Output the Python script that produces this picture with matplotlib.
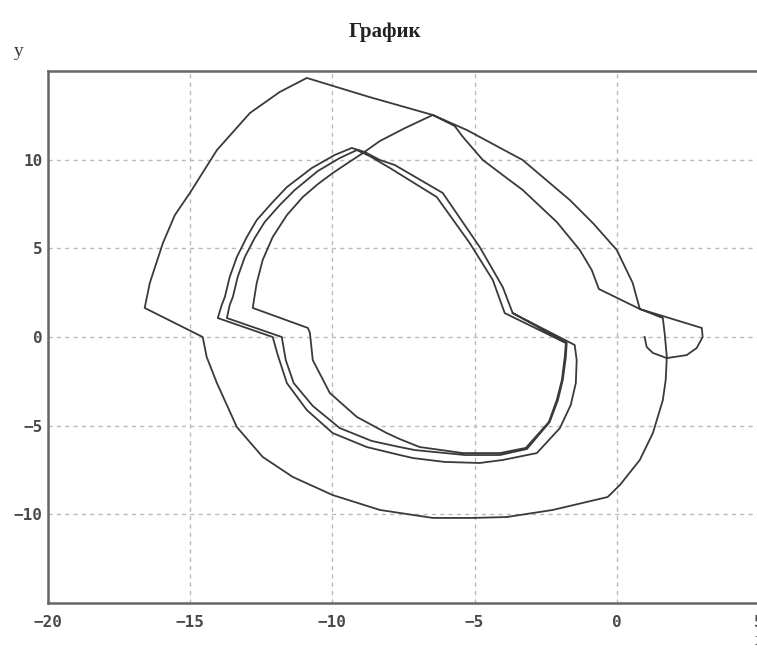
import matplotlib
matplotlib.use('Agg')
import matplotlib.pyplot as plt

# trajectory (clockwise spiral, then the outer loop and the hook)
x = [-3.66, -1.48, -1.41, -1.44, -1.62, -2.00, -2.81,
     -4.01, -4.82, -6.05, -7.17, -7.63, -8.79, -9.99, -10.90, -11.60, -11.92, -12.10,
     -14.03, -13.89, -13.78, -13.61, -13.36, -13.01, -12.66, -12.13, -11.60, -10.72, -9.92, -9.32,
     -8.86, -8.33, -7.81, -6.12, -4.82, -4.01, -3.66,
     -1.76, -1.79, -1.90, -2.07, -2.36, -3.16,
     -4.11, -5.34, -7.10, -7.63, -8.61, -9.74, -10.69, -11.36, -11.64, -11.78,
     -13.71, -13.61, -13.50, -13.33, -13.08, -12.73, -12.38, -11.85, -11.32, -10.51, -9.74, -9.14,
     -8.69, -7.98, -6.33, -5.17, -4.36, -3.94,
     -1.79, -1.83, -1.93, -2.11, -2.39, -3.20,
     -4.11, -5.41, -6.93, -7.63, -8.09, -9.14, -10.09, -10.69, -10.79, -10.86,
     -12.80, -12.73, -12.66, -12.45, -12.10, -11.60, -11.04, -10.51, -9.99, -9.46, -8.93, -8.33, -7.45, -6.47,
     -5.27, -3.31, -1.65, -0.81, 0.00, 0.56, 0.81, 1.62, 1.69, 1.76, 1.72, 1.62, 1.27, 0.81, 0.11, -0.32,
     -2.25, -3.87, -5.06, -6.47, -8.33, -9.99, -11.39, -12.45, -13.36, -14.06, -14.42, -14.56,
     -16.60, -16.42, -15.96, -15.54, -15.01, -14.06, -12.90, -11.85, -10.90, -8.69, -6.47,
     -5.70, -5.41, -4.71, -4.01, -3.31, -2.11, -1.30, -0.88, -0.63, 0.81,
     2.99, 3.02, 2.81, 2.46, 1.76, 1.27, 1.05, 0.98]
y = [1.35, -0.45, -1.30, -2.60, -3.84, -5.14, -6.55,
     -6.94, -7.11, -7.05, -6.83, -6.66, -6.21, -5.42, -4.12, -2.60, -1.02, 0.00,
     1.07, 1.81, 2.26, 3.39, 4.51, 5.64, 6.60, 7.56, 8.46, 9.54, 10.27, 10.67,
     10.44, 9.99, 9.71, 8.13, 5.08, 2.82, 1.35,
     -0.34, -1.13, -2.43, -3.56, -4.80, -6.32,
     -6.66, -6.66, -6.38, -6.21, -5.87, -5.14, -3.89, -2.60, -1.30, 0.00,
     1.07, 1.81, 2.26, 3.39, 4.51, 5.59, 6.49, 7.45, 8.30, 9.37, 10.10, 10.55,
     10.21, 9.54, 7.90, 5.30, 3.22, 1.35,
     -0.34, -1.13, -2.43, -3.56, -4.80, -6.26,
     -6.55, -6.55, -6.21, -5.76, -5.42, -4.51, -3.16, -1.30, 0.23, 0.51,
     1.64, 2.37, 3.05, 4.35, 5.64, 6.88, 7.90, 8.63, 9.25, 9.82, 10.38, 11.06, 11.79, 12.53,
     11.68, 9.99, 7.73, 6.38, 4.91, 3.05, 1.58, 1.07, 0.11, -1.13, -2.43, -3.56, -5.42, -6.94, -8.35, -9.03,
     -9.76, -10.16, -10.21, -10.21, -9.76, -8.92, -7.90, -6.77, -5.08, -2.60, -1.13, 0.00,
     1.64, 3.05, 5.30, 6.88, 8.13, 10.55, 12.64, 13.83, 14.62, 13.54, 12.53,
     11.91, 11.29, 9.99, 9.14, 8.30, 6.49, 4.91, 3.78, 2.71, 1.58,
     0.51, 0.00, -0.62, -1.02, -1.19, -0.90, -0.56, 0.00]

xticks = [-20, -15, -10, -5, 0, 5]
yticks = [-10, -5, 0, 5, 10]

fig = plt.figure(figsize=(7.57, 6.57), dpi=100)
ax = fig.add_axes([0.0634, 0.0825, 0.9392, 0.8091])

ax.plot(x, y, color='#3a3a3a', lw=1.3)

ax.set_xlim(-20, 5)
ax.set_ylim(-15, 15)
ax.set_xticks(xticks)
ax.set_yticks(yticks)
ax.set_xticklabels(['\u221220', '\u221215', '\u221210', '\u22125', '0', '5'])
ax.set_yticklabels(['\u221210', '\u22125', '0', '5', '10'])
ax.tick_params(length=0, labelsize=11.5, labelcolor='#4a4a4a')
ax.tick_params(axis='x', pad=9)
ax.tick_params(axis='y', pad=4)
for lab in ax.get_xticklabels() + ax.get_yticklabels():
    lab.set_family('DejaVu Sans Mono')
    lab.set_fontweight('bold')

ax.grid(True, color='#bbbbbb', ls=(0, (3, 3)), lw=1)
for s in ax.spines.values():
    s.set_color('#666666')
    s.set_linewidth(1.8)

fig.text(0.509, 0.952, 'График', ha='center', va='center', fontsize=15,
         fontweight='bold', family='Liberation Serif', color='#222222')
fig.text(0.025, 0.922, 'y', ha='center', va='center', fontsize=14,
         family='Liberation Serif', color='#333333')
fig.text(0.997, 0.012, 'x', ha='left', va='bottom', fontsize=14,
         family='Liberation Serif', color='#333333')

fig.savefig('out.png', dpi=100)
